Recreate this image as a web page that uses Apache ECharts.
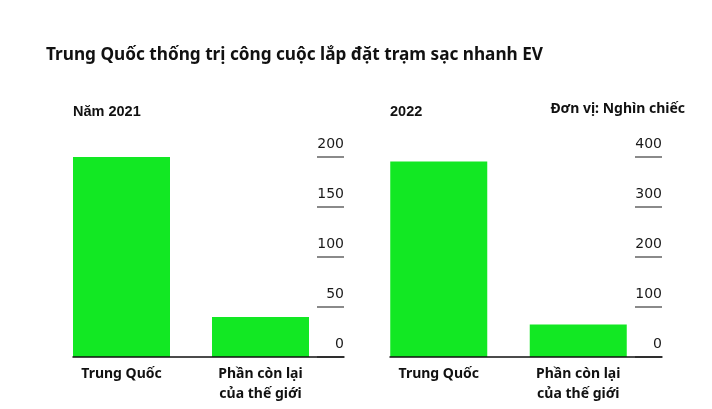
<!DOCTYPE html>
<html><head><meta charset="utf-8">
<script src="https://cdn.jsdelivr.net/npm/echarts@6/dist/echarts.min.js"></script>
<style>html,body{margin:0;padding:0;background:#fff}#c{width:712px;height:409px}</style>
</head><body><div id="c"></div>
<script>
const categories = ['Trung Quốc', 'Phần còn lại\ncủa thế giới'];
const values2021 = [200, 40];
const values2022 = [391, 65];
const ticks2021 = {min: 0, max: 200, interval: 50};
const ticks2022 = {min: 0, max: 400, interval: 100};

const GREEN = '#12e823';
const chart = echarts.init(document.getElementById('c'));
const TOP = 157, BOTTOM = 52;

function tickAxis(gi, t) {
  return {
    type: 'value', gridIndex: gi, position: 'right', min: t.min, max: t.max, interval: t.interval, z: 1,
    axisLine: {show: false}, splitLine: {show: false},
    axisTick: {show: true, inside: true, length: 27, lineStyle: {color: '#8a8a8a', width: 2}},
    axisLabel: {inside: true, margin: 0, verticalAlign: 'bottom', padding: [0, 0, 6, 0],
      color: '#1a1a1a', fontFamily: 'DejaVu Sans', fontSize: 14}
  };
}
function hiddenY(gi, t) {
  return {type: 'value', gridIndex: gi, min: t.min, max: t.max, interval: t.interval, show: false};
}
function baseX(gi) {
  return {type: 'category', gridIndex: gi, data: [''], z: 5,
    axisLine: {show: true, lineStyle: {color: '#111', width: 1.5}},
    axisTick: {show: false}, axisLabel: {show: false}};
}
function catX(gi) {
  return {type: 'category', gridIndex: gi, data: categories,
    axisLine: {show: false}, axisTick: {show: false},
    axisLabel: {color: '#111', fontFamily: 'Noto Sans', fontWeight: 'bold', fontSize: 14, lineHeight: 20, margin: 7}};
}

chart.setOption({
  animation: false,
  title: [
    {text: 'Trung Quốc thống trị công cuộc lắp đặt trạm sạc nhanh EV', left: 41, top: 42, padding: 5,
      textStyle: {fontFamily: 'Noto Sans', fontWeight: 'bold', fontSize: 17.2, color: '#111'}},
    {text: 'Năm 2021', left: 68, top: 99,
      textStyle: {fontFamily: 'Liberation Sans', fontWeight: 'bold', fontSize: 14.5, color: '#111'}},
    {text: '2022', left: 385, top: 99,
      textStyle: {fontFamily: 'Liberation Sans', fontWeight: 'bold', fontSize: 14.5, color: '#111'}},
    {text: 'Đơn vị: Nghìn chiếc', right: 22, top: 97,
      textStyle: {fontFamily: 'Noto Sans', fontWeight: 'bold', fontSize: 14, color: '#111'}}
  ],
  grid: [
    {left: 73, right: 712 - 344, top: TOP, bottom: BOTTOM},
    {left: 52, right: 712 - 330, top: TOP, bottom: BOTTOM},
    {left: 390, right: 712 - 662, top: TOP, bottom: BOTTOM},
    {left: 369, right: 712 - 648, top: TOP, bottom: BOTTOM}
  ],
  xAxis: [baseX(0), catX(1), baseX(2), catX(3)],
  yAxis: [tickAxis(0, ticks2021), hiddenY(1, ticks2021), tickAxis(2, ticks2022), hiddenY(3, ticks2022)],
  series: [
    {type: 'bar', xAxisIndex: 1, yAxisIndex: 1, data: values2021, barWidth: 97, itemStyle: {color: GREEN}},
    {type: 'bar', xAxisIndex: 3, yAxisIndex: 3, data: values2022, barWidth: 97, itemStyle: {color: GREEN}}
  ]
});
</script></body></html>
